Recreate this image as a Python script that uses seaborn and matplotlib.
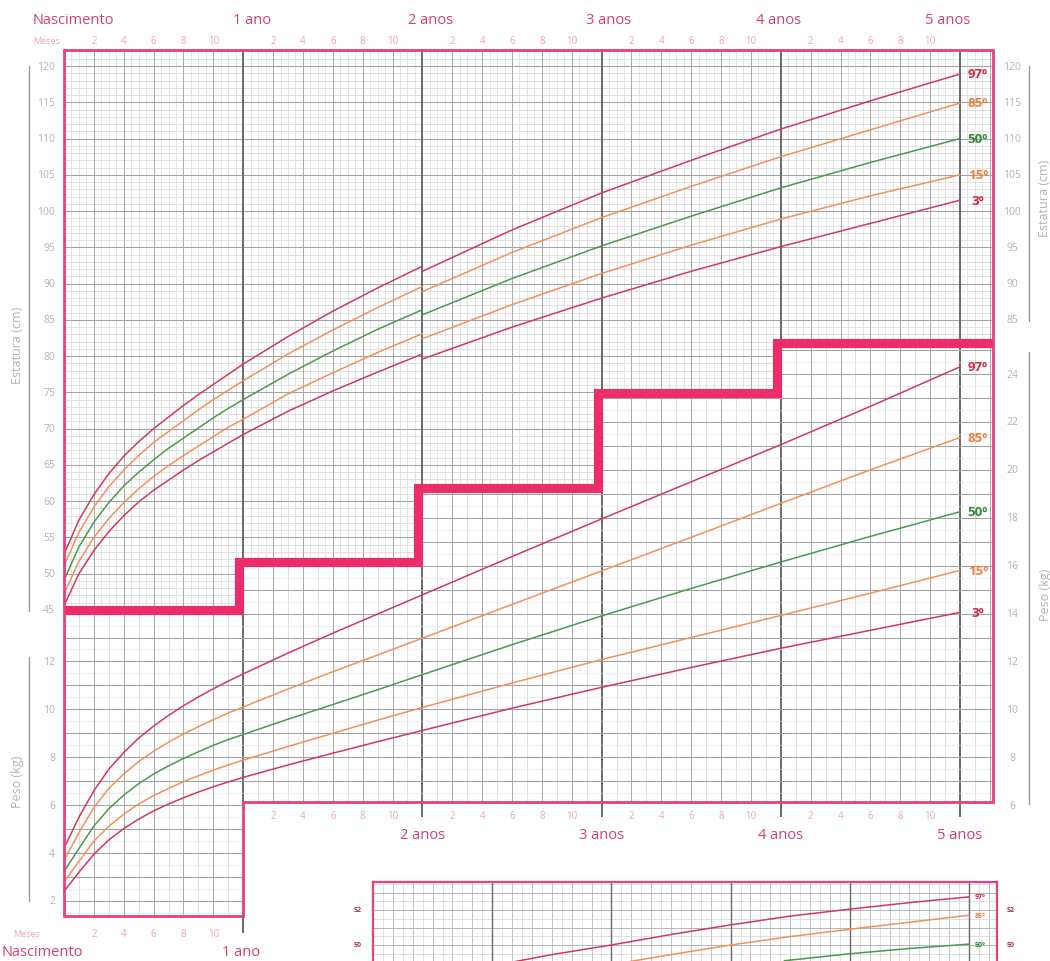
import numpy as np
import pandas as pd
import matplotlib
matplotlib.use("Agg")
import matplotlib.pyplot as plt
import seaborn as sns
from matplotlib.patches import Polygon
from matplotlib.lines import Line2D

# ---------------- data ----------------
PCTS = ["97", "85", "50", "15", "3"]

# length (0-24 months), cm
len_months = [0, 1, 2, 3, 4, 5, 6, 7, 8, 9, 10, 11, 12, 15, 18, 21, 24]
len_p97 = [52.7, 57.4, 60.9, 63.8, 66.2, 68.2, 70.0, 71.6, 73.2, 74.7, 76.1, 77.5, 78.9, 82.7, 86.2, 89.4, 92.4]
len_p85 = [51.1, 55.7, 59.2, 62.0, 64.3, 66.3, 68.1, 69.6, 71.1, 72.6, 74.0, 75.3, 76.6, 80.3, 83.6, 86.7, 89.6]
len_p50 = [49.1, 53.7, 57.1, 59.8, 62.1, 64.0, 65.7, 67.3, 68.7, 70.1, 71.5, 72.8, 74.0, 77.5, 80.7, 83.7, 86.4]
len_p15 = [47.2, 51.7, 55.0, 57.6, 59.8, 61.7, 63.4, 64.9, 66.3, 67.6, 68.9, 70.2, 71.3, 74.8, 77.7, 80.5, 83.1]
len_p3 = [45.6, 50.0, 53.2, 55.8, 58.0, 59.9, 61.5, 62.9, 64.3, 65.6, 66.8, 68.0, 69.2, 72.4, 75.2, 77.8, 80.3]

# height (24-60 months), cm
ht_months = [24, 30, 36, 42, 48, 54, 60]
ht_p97 = [91.7, 97.4, 102.5, 107.0, 111.3, 115.2, 118.9]
ht_p85 = [88.9, 94.3, 99.1, 103.4, 107.5, 111.2, 114.9]
ht_p50 = [85.7, 90.7, 95.2, 99.3, 103.2, 106.7, 110.0]
ht_p15 = [82.4, 87.1, 91.4, 95.3, 98.9, 102.1, 105.0]
ht_p3 = [79.6, 84.0, 88.0, 91.7, 95.1, 98.3, 101.5]

# weight (0-60 months), kg
wt_months = [0, 1, 2, 3, 4, 5, 6, 7, 8, 9, 10, 11, 12, 15, 18, 21, 24, 30, 36, 42, 48, 54, 60]
wt_p97 = [4.2, 5.5, 6.6, 7.5, 8.2, 8.8, 9.3, 9.75, 10.15, 10.52, 10.86, 11.18, 11.48, 12.35, 13.18, 13.98, 14.78, 16.38, 17.95, 19.5, 21.05, 22.65, 24.3]
wt_p85 = [3.7, 4.85, 5.9, 6.7, 7.3, 7.82, 8.25, 8.63, 8.97, 9.28, 9.57, 9.85, 10.1, 10.85, 11.57, 12.27, 12.97, 14.38, 15.78, 17.18, 18.6, 20.0, 21.35]
wt_p50 = [3.23, 4.19, 5.13, 5.85, 6.42, 6.9, 7.3, 7.64, 7.95, 8.23, 8.5, 8.74, 8.95, 9.59, 10.2, 10.82, 11.45, 12.7, 13.9, 15.05, 16.15, 17.22, 18.25]
wt_p15 = [2.8, 3.65, 4.5, 5.12, 5.62, 6.05, 6.4, 6.7, 6.98, 7.23, 7.46, 7.68, 7.88, 8.45, 9.0, 9.55, 10.08, 11.1, 12.08, 13.0, 13.92, 14.85, 15.8]
wt_p3 = [2.4, 3.2, 3.95, 4.55, 5.02, 5.42, 5.76, 6.05, 6.31, 6.55, 6.77, 6.97, 7.16, 7.68, 8.17, 8.65, 9.12, 10.05, 10.92, 11.75, 12.55, 13.3, 14.05]

# staircase separating height / weight areas (cm, one per year band)
stair_years = [0, 1, 2, 3, 4]
stair_cm = [45.0, 51.6, 61.8, 74.9, 81.8]

# tick labels
ht_ticks_left = [45, 50, 55, 60, 65, 70, 75, 80, 85, 90, 95, 100, 105, 110, 115, 120]
ht_ticks_right = [85, 90, 95, 100, 105, 110, 115, 120]
wt_ticks_left = [2, 4, 6, 8, 10, 12]
wt_ticks_right = [6, 8, 10, 12, 14, 16, 18, 20, 22, 24]
month_ticks = [2, 4, 6, 8, 10]
year_labels = ["1 ano", "2 anos", "3 anos", "4 anos", "5 anos"]

# partial lower chart (head circumference, cm, by years)
hc_p97_x = [1.15, 1.5, 2.0, 2.5, 3.0, 3.5, 4.0, 4.5, 5.0]
hc_p97 = [49.0, 49.45, 50.0, 50.6, 51.15, 51.65, 52.05, 52.42, 52.75]
hc_p85_x = [2.15, 2.5, 3.0, 3.5, 4.0, 4.5, 5.0]
hc_p85 = [49.05, 49.45, 50.0, 50.48, 50.9, 51.3, 51.7]
hc_p50_x = [3.45, 4.0, 4.5, 5.0]
hc_p50 = [49.1, 49.5, 49.8, 50.05]

# ---------------- style ----------------
RED = "#cf3a5c"
ORANGE = "#f0925a"
GREEN = "#4b9a4b"
LAB_RED = "#d4283c"
LAB_OR = "#ef7d3c"
LAB_GR = "#2f8a3a"
line_cols = {"97": RED, "85": ORANGE, "50": GREEN, "15": ORANGE, "3": RED}
lab_cols = {"97": LAB_RED, "85": LAB_OR, "50": LAB_GR, "15": LAB_OR, "3": LAB_RED}
FRAME = "#e5427c"
STAIR = "#ec2d69"
PINK = "#cf4079"
LPINK = "#eda3bd"
GRAYT = "#b3b3b3"

sns.set_theme(style="white")
plt.rcParams["font.family"] = ["Open Sans", "DejaVu Sans"]

W, H = 1050, 962
fig = plt.figure(figsize=(W / 100, H / 100), dpi=100)
fig.patch.set_facecolor("white")

# pixel layout helpers
X0_PX, PX_MONTH = 64.0, 896.0 / 60.0
H45_PX, PX_CM = 611.0, 7.2533
W2_PX, PX_KG = 902.0, 23.9545


def px2m(px):
    return (px - X0_PX) / PX_MONTH


def py2cm(py):
    return 45 + (H45_PX - py) / PX_CM


def py2kg(py):
    return 2 + (W2_PX - py) / PX_KG


def ftext(px, py, s, **kw):
    fig.text(px / W, 1 - py / H, s, **kw)


def fline(x0, y0, x1, y1, **kw):
    fig.add_artist(Line2D([x0 / W, x1 / W], [1 - y0 / H, 1 - y1 / H],
                          transform=fig.transFigure, **kw))


XLIM = (px2m(0), px2m(W))
ax_h = fig.add_axes([0, 0, 1, 1])
ax_w = fig.add_axes([0, 0, 1, 1])
ax_t = fig.add_axes([0, 0, 1, 1])
for a in (ax_h, ax_w, ax_t):
    a.set_xlim(*XLIM)
    a.axis("off")
    a.patch.set_alpha(0)
ax_h.set_ylim(py2cm(H), py2cm(0))
ax_t.set_ylim(py2cm(H), py2cm(0))
ax_w.set_ylim(py2kg(H), py2kg(0))

XR = px2m(993)          # frame right
TOP = py2cm(51)         # frame top
BOT_R = py2cm(803)      # frame bottom (1-5 y)
BOT_L = py2cm(917)      # frame bottom (0-1 y)
OFF = 0.27              # stair verticals sit just left of year lines

sx = [y * 12 - (OFF if y > 0 else 0) for y in stair_years]

# clip regions
hv = [(0, TOP), (XR, TOP), (XR, stair_cm[4])]
for i in range(4, 0, -1):
    hv += [(sx[i], stair_cm[i]), (sx[i], stair_cm[i - 1])]
hv += [(0, stair_cm[0])]
clip_h = Polygon(hv, closed=True, transform=ax_h.transData)

wv = [(0, stair_cm[0])]
for i in range(1, 5):
    wv += [(sx[i], stair_cm[i - 1]), (sx[i], stair_cm[i])]
wv += [(XR, stair_cm[4]), (XR, BOT_R), (12, BOT_R), (12, BOT_L), (0, BOT_L)]
clip_w = Polygon(wv, closed=True, transform=ax_h.transData)

# ---------------- grids ----------------
hm = np.arange(0.5, XR, 0.5)
hm_light = hm[(hm % 2 != 0)]
hm_mid = hm[(hm % 2 == 0) & (hm % 12 != 0)]
hh = np.arange(45, 123, 1)
hh_light = hh[hh % 5 != 0]
hh_mid = hh[hh % 5 == 0]
for c in [
    ax_h.vlines(hm_light, 40, 125, color="#dadada", lw=0.5, zorder=1),
    ax_h.hlines(hh_light, -1, XR + 1, color="#d6d6d6", lw=0.5, zorder=1),
    ax_h.vlines(hm_mid, 40, 125, color="#a9a9a9", lw=0.7, zorder=1.5),
    ax_h.hlines(hh_mid, -1, XR + 1, color="#a3a3a3", lw=0.75, zorder=1.5),
]:
    c.set_clip_path(clip_h)

wm = np.arange(1, XR, 1.0)
wm_light = wm[wm % 2 != 0]
wm_mid = wm[(wm % 2 == 0) & (wm % 12 != 0)]
ww = np.arange(1, 27, 1)
ww_half = np.arange(1.5, 27, 1)
for c in [
    ax_w.vlines(wm_light, 0, 30, color="#d0d0d0", lw=0.5, zorder=1),
    ax_w.hlines(ww_half, -1, XR + 1, color="#e4e4e4", lw=0.45, zorder=1),
    ax_w.vlines(wm_mid, 0, 30, color="#a9a9a9", lw=0.7, zorder=1.5),
    ax_w.hlines(ww, -1, XR + 1, color="#a3a3a3", lw=0.75, zorder=1.5),
]:
    c.set_clip_path(clip_w)

# year lines
ax_h.vlines([12, 24, 36, 48, 60], BOT_R, TOP, color="#5e5e5e", lw=1.3, zorder=2)
ax_h.vlines([12], BOT_L, py2cm(934), color="#5e5e5e", lw=1.3, zorder=2)
ax_h.vlines([24, 36, 48, 60], BOT_R, py2cm(818), color="#5e5e5e", lw=1.3, zorder=2)

# ---------------- curves ----------------
len_data = {"97": len_p97, "85": len_p85, "50": len_p50, "15": len_p15, "3": len_p3}
ht_data = {"97": ht_p97, "85": ht_p85, "50": ht_p50, "15": ht_p15, "3": ht_p3}
wt_data = {"97": wt_p97, "85": wt_p85, "50": wt_p50, "15": wt_p15, "3": wt_p3}

for p in PCTS:
    sns.lineplot(x=len_months, y=len_data[p], ax=ax_h, color=line_cols[p],
                 lw=1.1, zorder=3, legend=False, sort=False)
    sns.lineplot(x=ht_months, y=ht_data[p], ax=ax_h, color=line_cols[p],
                 lw=1.1, zorder=3, legend=False, sort=False)
    sns.lineplot(x=wt_months, y=wt_data[p], ax=ax_w, color=line_cols[p],
                 lw=1.1, zorder=3, legend=False, sort=False)
    ax_h.text(px2m(978), ht_data[p][-1], p + "º", ha="center", va="center",
              color=lab_cols[p], fontsize=9.5, fontweight="bold", zorder=6)
    ax_w.text(px2m(978), wt_data[p][-1], p + "º", ha="center", va="center",
              color=lab_cols[p], fontsize=9.5, fontweight="bold", zorder=6)

# ---------------- staircase + frame ----------------
st_x = sx + [XR]
st_y = stair_cm + [stair_cm[-1]]
sns.lineplot(x=st_x, y=st_y, ax=ax_t, color=STAIR, lw=6.6, drawstyle="steps-post",
             sort=False, legend=False, zorder=5, solid_joinstyle="miter",
             solid_capstyle="butt")
fx = [0, XR, XR, 12, 12, 0, 0]
fy = [TOP, TOP, BOT_R, BOT_R, BOT_L, BOT_L, TOP]
ax_t.plot(fx, fy, color=FRAME, lw=2.0, zorder=6, solid_joinstyle="miter")

# ---------------- texts ----------------
ftext(33, 20, "Nascimento", ha="left", va="center", fontsize=10.5, color=PINK)
top_centers = [252, 431, 609, 779, 948]
for lab, cx in zip(year_labels, top_centers):
    ftext(cx, 20, lab, ha="center", va="center", fontsize=10.5, color=PINK)
ftext(33, 42, "Meses", ha="left", va="center", fontsize=6.5, color=LPINK)
for k in range(5):
    for m in month_ticks:
        ax_h.text(k * 12 + m, py2cm(42), str(m), ha="center", va="center",
                  fontsize=7, color=LPINK)
for k in range(1, 5):
    for m in month_ticks:
        ax_h.text(k * 12 + m, py2cm(817), str(m), ha="center", va="center",
                  fontsize=7, color=LPINK)
for k, lab in enumerate(year_labels[1:], start=2):
    ax_h.text(k * 12, py2cm(836), lab, ha="center", va="center",
              fontsize=10.5, color=PINK)
ftext(13, 935, "Meses", ha="left", va="center", fontsize=6.5, color=LPINK)
for m in month_ticks:
    ax_h.text(m, py2cm(935), str(m), ha="center", va="center", fontsize=7, color=LPINK)
ftext(2, 953, "Nascimento", ha="left", va="center", fontsize=10.5, color=PINK)
ax_h.text(12 - 0.15, py2cm(953), "1 ano", ha="center", va="center", fontsize=10.5, color=PINK)

for v in ht_ticks_left:
    ax_h.text(px2m(55), v, str(v), ha="right", va="center", fontsize=7.5, color=GRAYT)
for v in ht_ticks_right:
    ax_h.text(px2m(1012), v, str(v), ha="center", va="center", fontsize=7.5, color=GRAYT)
for v in wt_ticks_left:
    ax_w.text(px2m(55), v, str(v), ha="right", va="center", fontsize=7.5, color=GRAYT)
for v in wt_ticks_right:
    ax_w.text(px2m(1012), v, str(v), ha="center", va="center", fontsize=7.5, color=GRAYT)

fline(29, 67, 29, 612, color="#9a9a9a", lw=1.0)
fline(29, 658, 29, 902, color="#9a9a9a", lw=1.0)
fline(1029, 67, 1029, 322, color="#9a9a9a", lw=1.0)
fline(1029, 353, 1029, 805, color="#9a9a9a", lw=1.0)
ftext(18, 345, "Estatura (cm)", rotation=90, ha="center", va="center", fontsize=9, color=GRAYT)
ftext(18, 782, "Peso (kg)", rotation=90, ha="center", va="center", fontsize=9, color=GRAYT)
ftext(1045, 198, "Estatura (cm)", rotation=90, ha="center", va="center", fontsize=9, color=GRAYT)
ftext(1045, 595, "Peso (kg)", rotation=90, ha="center", va="center", fontsize=9, color=GRAYT)

# ---------------- partial lower chart ----------------
L3, R3, T3, B3 = 373, 997, 883, 1080
ax3 = fig.add_axes([L3 / W, 1 - B3 / H, (R3 - L3) / W, (B3 - T3) / H])
PX_YR3, PX_CM3 = 119.2, 17.5
X3LIM = (0, (R3 - L3) / PX_YR3)
Y3LIM = (52 - (B3 - 911) / PX_CM3, 52 + (911 - T3) / PX_CM3)
ax3.set_xticks([])
ax3.set_yticks([])
for s in ax3.spines.values():
    s.set_color(FRAME)
    s.set_linewidth(1.6)
xm = np.arange(1 / 12, 5.23, 1 / 12)
ax3.vlines(xm, 40, 60, color="#d2d2d2", lw=0.45, zorder=1)
ax3.vlines(np.arange(2 / 12, 5.23, 2 / 12), 40, 60, color="#b8b8b8", lw=0.5, zorder=1)
ax3.hlines(np.arange(45, 56, 0.5), 0, 6, color="#cfcfcf", lw=0.45, zorder=1)
ax3.hlines(np.arange(45, 56, 1.0), 0, 6, color="#adadad", lw=0.55, zorder=1)
ax3.vlines([1, 2, 3, 4, 5], 40, 60, color="#6a6a6a", lw=1.0, zorder=2)
for xs, ys, p in [(hc_p97_x, hc_p97, "97"), (hc_p85_x, hc_p85, "85"), (hc_p50_x, hc_p50, "50")]:
    sns.lineplot(x=xs, y=ys, ax=ax3, color=line_cols[p], lw=1.1, zorder=3,
                 legend=False, sort=False)
    ax3.text(5.09, ys[-1], p + "º", ha="center", va="center", fontsize=5,
             color=lab_cols[p], fontweight="bold")
ax3.set_xlim(*X3LIM)
ax3.set_ylim(*Y3LIM)
ax3.set_xlabel("")
ax3.set_ylabel("")
for v in [52, 50]:
    yy = 911 + (52 - v) * PX_CM3
    ftext(358, yy, str(v), ha="center", va="center", fontsize=5, color="#a8344f", fontweight="bold")
    ftext(1011, yy, str(v), ha="center", va="center", fontsize=5, color="#a8344f", fontweight="bold")

for a in (ax_h, ax_w, ax_t):
    a.set_xlim(*XLIM)
    a.set_xlabel("")
    a.set_ylabel("")
ax_h.set_ylim(py2cm(H), py2cm(0))
ax_t.set_ylim(py2cm(H), py2cm(0))
ax_w.set_ylim(py2kg(H), py2kg(0))

fig.savefig("out.png", dpi=100, facecolor="white")
